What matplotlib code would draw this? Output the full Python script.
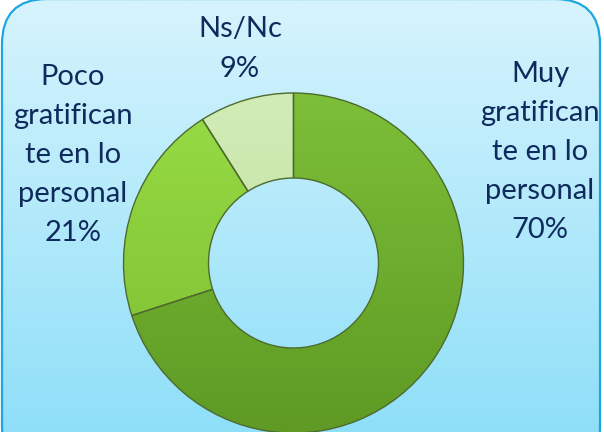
import numpy as np
import matplotlib
matplotlib.use("Agg")
import matplotlib.pyplot as plt
from matplotlib.patches import FancyBboxPatch
from matplotlib.colors import LinearSegmentedColormap

categories = ["Muy\ngratifican\nte en lo\npersonal", "Poco\ngratifican\nte en lo\npersonal", "Ns/Nc"]
values = [70, 21, 9]
pct_labels = ["70%", "21%", "9%"]
top_colors = ["#7dbf38", "#97dc45", "#d2ecb6"]
bot_colors = ["#5e9a24", "#7cbc30", "#b9dd98"]

W, H = 604, 432
fig = plt.figure(figsize=(6.04, 4.32), dpi=100)
ax = fig.add_axes([0, 0, 1, 1])

# background gradient
grad = np.linspace(0, 1, 256).reshape(-1, 1)
bg_cmap = LinearSegmentedColormap.from_list("bg", ["#d6f4fd", "#8fdff8"])
bg = ax.imshow(grad, cmap=bg_cmap, extent=[0, W, 0, H], origin="upper", aspect="auto", zorder=0)
box = FancyBboxPatch((2, -40), W - 6, H + 41, boxstyle="round,pad=0,rounding_size=45",
                     facecolor="none", edgecolor="#1fa6e0", linewidth=1.6, zorder=5)
ax.add_patch(box)
bg.set_clip_path(box)

cx, cy, R = 293.5, H - 263, 170
wedges, _ = ax.pie(values, startangle=90, counterclock=False, radius=R, center=(cx, cy),
                   wedgeprops=dict(width=R * 0.5, edgecolor="#4d6b2e", linewidth=1.0),
                   colors=top_colors, frame=True)
for w, tc, bc in zip(wedges, top_colors, bot_colors):
    w.set_facecolor("none")
    w.set_zorder(3)
    cm = LinearSegmentedColormap.from_list("w", [tc, bc])
    im = ax.imshow(grad, cmap=cm, extent=[cx - R, cx + R, cy - R, cy + R], origin="upper",
                   aspect="auto", zorder=2)
    im.set_clip_path(w)

ax.set_xlim(0, W)
ax.set_ylim(0, H)
ax.set_aspect("auto")
ax.set_axis_off()

txt = dict(fontsize=21, color="#0f2a5c", ha="center", va="center", family="Lato", linespacing=1.62)
ax.text(540, H - 152, categories[0] + "\n" + pct_labels[0], **txt, zorder=4)
ax.text(73, H - 155, categories[1] + "\n" + pct_labels[1], **txt, zorder=4)
ax.text(240, H - 49, categories[2] + "\n" + pct_labels[2], **txt, zorder=4)

fig.savefig("out.png", dpi=100)
